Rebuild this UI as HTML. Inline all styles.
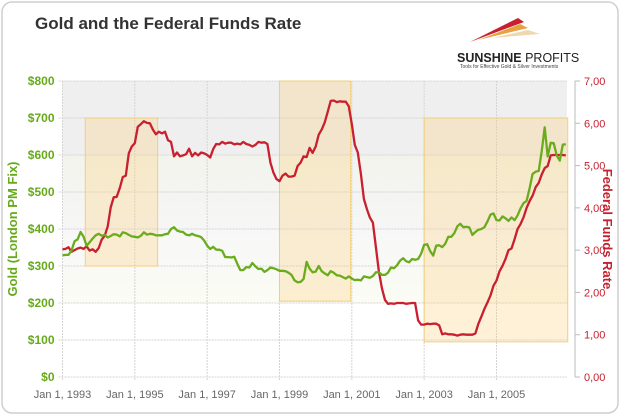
<!DOCTYPE html>
<html><head><meta charset="utf-8"><style>
body{margin:0;background:#fff;}
svg{display:block;font-family:"Liberation Sans",sans-serif;}
</style></head><body>
<svg id="chart" width="620" height="417" viewBox="0 0 620 417">
<defs>
<linearGradient id="g1" x1="0" y1="0" x2="0" y2="1"><stop offset="0" stop-color="#f2f4ec"/><stop offset="1" stop-color="#f6f6f6"/></linearGradient>
<linearGradient id="g2" x1="0" y1="0" x2="0" y2="1"><stop offset="0" stop-color="#f7f7f7"/><stop offset="1" stop-color="#fbfcf4"/></linearGradient>
</defs>
<rect x="2" y="2" width="616" height="411" rx="10" fill="#fff" stroke="#cfcfcf" stroke-width="1.5"/>
<text x="35" y="29" font-size="17" font-weight="bold" fill="#333">Gold and the Federal Funds Rate</text>
<g>
<polygon points="470,42 518,18 524,22" fill="#c8202f"/>
<polygon points="478,40 520,24 528,28" fill="#e8a040"/>
<polygon points="492,38 528,30 540,34" fill="#e8c890" opacity="0.7"/>
<text x="457" y="62" font-size="12.5" font-weight="bold" fill="#222">SUNSHINE <tspan font-weight="normal">PROFITS</tspan></text>
<text x="460" y="68" font-size="5" fill="#444">Tools for Effective Gold &amp; Silver Investments</text>
</g>
<g id="plot"></g>
</svg>
<script>
const years=[1993,1994,1995,1996,1997,1998,1999,2000,2001,2002,2003,2004,2005,2006];
const goldPrices=[329,330,330,342,367,372,392,379,355,364,374,383,
387,382,384,377,381,386,385,380,391,389,384,380,
379,377,382,391,385,387,386,383,383,383,386,387,
400,405,396,393,392,385,383,387,383,381,378,369,
355,346,352,344,344,341,324,324,323,325,306,289,
289,297,296,308,299,292,293,284,289,296,294,291,
287,287,286,282,276,261,256,257,265,311,293,283,
285,300,286,280,275,286,282,275,274,270,266,272,
266,262,263,261,272,270,268,273,283,283,276,276,
282,296,294,302,314,321,313,310,319,317,319,333,
357,359,340,328,355,356,351,360,379,379,389,407,
414,405,406,404,384,392,398,400,405,420,439,442,
424,423,434,429,422,431,424,437,456,470,476,510,
549,555,557,610,675,596,633,632,598,585,628,629];
const fedRates=[3.02,3.03,3.07,2.96,3.00,3.04,3.06,3.03,3.09,2.99,3.02,2.96,
3.05,3.25,3.34,3.56,4.01,4.25,4.26,4.47,4.73,4.76,5.29,5.45,
5.53,5.92,5.98,6.05,6.01,6.00,5.85,5.74,5.80,5.76,5.80,5.60,
5.56,5.22,5.31,5.22,5.24,5.27,5.40,5.22,5.30,5.24,5.31,5.29,
5.25,5.19,5.39,5.51,5.50,5.56,5.52,5.54,5.54,5.50,5.52,5.50,
5.56,5.51,5.49,5.45,5.49,5.56,5.54,5.55,5.51,5.07,4.83,4.68,
4.63,4.76,4.81,4.74,4.74,4.76,4.99,5.07,5.22,5.20,5.42,5.30,
5.45,5.73,5.85,6.02,6.27,6.53,6.54,6.50,6.52,6.51,6.51,6.40,
5.98,5.49,5.31,4.80,4.21,3.97,3.77,3.65,3.07,2.49,2.09,1.82,
1.73,1.74,1.73,1.75,1.75,1.75,1.73,1.74,1.75,1.75,1.34,1.24,
1.24,1.26,1.25,1.26,1.26,1.22,1.01,1.03,1.01,1.01,1.00,0.98,
1.00,1.01,1.00,1.00,1.00,1.03,1.26,1.43,1.61,1.76,1.93,2.16,
2.28,2.50,2.63,2.79,3.00,3.04,3.26,3.50,3.62,3.78,4.00,4.16,
4.29,4.49,4.59,4.79,4.94,4.99,5.24,5.25,5.25,5.25,5.25,5.24];
const goldTicks=[0,100,200,300,400,500,600,700,800];
const rateTicks=[0,1,2,3,4,5,6,7];
const xTickYears=[1993,1995,1997,1999,2001,2003,2005];
// highlight periods: [startYear(fractional), endYear, goldTop, goldBottom]
const boxStarts=[1993.63,1999.0,2003.0];
const boxEnds=[1995.63,2000.97,2006.97];
const boxTops=[700,800,700];
const boxBottoms=[300,205,95];

const X0=62.5,X1=567,Y0=377,Y1=81;
const xs=t=>X0+(t-1993)*(X1-X0)/13.95;
const yg=v=>Y0-v*(Y0-Y1)/800;
const yr=v=>Y0-v*(Y0-Y1)/7;
const NS="http://www.w3.org/2000/svg";
const plot=document.getElementById('plot');
function mk(tag,attrs,parent){const e=document.createElementNS(NS,tag);for(const k in attrs)e.setAttribute(k,attrs[k]);(parent||plot).appendChild(e);return e;}

// background bands
let b;
b=mk('rect',{x:X0,y:yg(800),width:X1-X0,height:yg(600)-yg(800),fill:'#efefef'});


b=mk('rect',{x:X0,y:yg(600),width:X1-X0,height:yg(400)-yg(600),fill:'url(#g1)'});


b=mk('rect',{x:X0,y:yg(400),width:X1-X0,height:yg(200)-yg(400),fill:'url(#g2)'});



// grid
goldTicks.forEach(v=>{
 const l=mk('line',{x1:X0-4,x2:X1,y1:yg(v),y2:yg(v),stroke:'#d4d4d4','stroke-dasharray':'2,1'});
 
 
 const t=mk('text',{x:X0-8,y:yg(v)+4,'text-anchor':'end','font-size':12,'font-weight':'bold',fill:'#66aa1a'});
 t.textContent='$'+v;
 
 
});
xTickYears.forEach(y=>{
 const l=mk('line',{x1:xs(y),x2:xs(y),y1:Y1,y2:Y0+4,stroke:'#d4d4d4','stroke-dasharray':'2,1'});
 
 
 const t=mk('text',{x:xs(y),y:398,'text-anchor':'middle','font-size':11,fill:'#666'});
 t.textContent='Jan 1, '+y;
 
 
});
// right axis
let ax=mk('line',{x1:575,x2:575,y1:Y1,y2:Y0,stroke:'#bbb'});


rateTicks.forEach(v=>{
 const l=mk('line',{x1:575,x2:580,y1:yr(v),y2:yr(v),stroke:'#bbb'});
 
 
 const t=mk('text',{x:584,y:yr(v)+4,'font-size':11,fill:'#c8202f'});
 t.textContent=v.toFixed(2).replace('.',',');
 
 
});
let at=mk('text',{x:0,y:0,'font-size':13,'font-weight':'bold',fill:'#66aa1a','text-anchor':'middle',transform:'translate(17,229) rotate(-90)'});
at.textContent='Gold (London PM Fix)';


at=mk('text',{x:0,y:0,'font-size':13,'font-weight':'bold',fill:'#c8202f','text-anchor':'middle',transform:'translate(603,229) rotate(90)'});
at.textContent='Federal Funds Rate';



// boxes
boxStarts.forEach((s,i)=>{
 const r=mk('rect',{x:xs(s),y:yg(boxTops[i]),width:xs(boxEnds[i])-xs(s),height:yg(boxBottoms[i])-yg(boxTops[i]),fill:'rgba(255,205,110,0.28)',stroke:'#f2cf78','stroke-width':1});
 
 
});

function path(vals,yf){return vals.map((v,i)=>(i?'L':'M')+xs(1993+i/12).toFixed(1)+','+yf(v).toFixed(1)).join('');}
let p=mk('path',{d:path(fedRates,yr),fill:'none',stroke:'#c8202f','stroke-width':2.3,'stroke-linejoin':'round'});


p=mk('path',{d:path(goldPrices,yg),fill:'none',stroke:'#6aac1e','stroke-width':2.3,'stroke-linejoin':'round'});


</script>
</body></html>
